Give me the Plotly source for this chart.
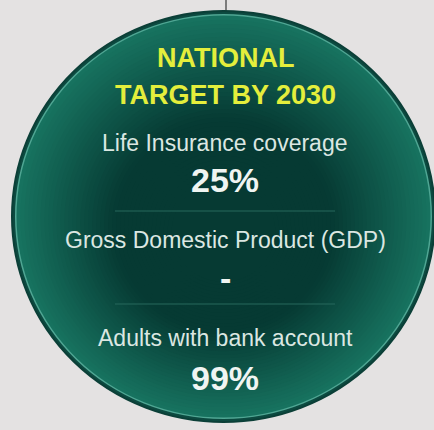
import plotly.graph_objects as go

W, H = 434, 430

title_lines = ["NATIONAL", "TARGET BY 2030"]
labels = ["Life Insurance coverage", "Gross Domestic Product (GDP)", "Adults with bank account"]
values = ["25%", "-", "99%"]

bg = "#e4e2e2"
fig = go.Figure()

# circle geometry (pixel coords)
x0, x1, y0, y1 = 12, 435, 11, 422
cx, cy = (x0 + x1) / 2, (y0 + y1) / 2
rx, ry = (x1 - x0) / 2, (y1 - y0) / 2

def lerp(c1, c2, t):
    a = [int(c1[i:i + 2], 16) for i in (1, 3, 5)]
    b = [int(c2[i:i + 2], 16) for i in (1, 3, 5)]
    return "#%02x%02x%02x" % tuple(round(a[k] + (b[k] - a[k]) * t) for k in range(3))

shapes = []
# hanging line
shapes.append(dict(type="line", x0=226, x1=226, y0=0, y1=y0 + 2, line=dict(color="#5a5a5a", width=1.5)))
# outer rim
shapes.append(dict(type="circle", x0=x0, x1=x1, y0=y0, y1=y1, fillcolor="#0c4a40",
                   line=dict(color="#0b3f37", width=2)))
shapes.append(dict(type="circle", x0=x0 + 3, x1=x1 - 3, y0=y0 + 3, y1=y1 - 3, fillcolor="#4fa693",
                   line=dict(width=0)))
N = 40
for i in range(N):
    t = i / (N - 1)
    s = 1 - 0.75 * t
    ccy = cy + 15 * t
    col = lerp("#17725f", "#063a33", min(1, t * 1.6))
    shapes.append(dict(type="circle", x0=cx - (rx - 4.5) * s, x1=cx + (rx - 4.5) * s,
                       y0=ccy - (ry - 4.5) * s, y1=ccy + (ry - 4.5) * s,
                       fillcolor=col, line=dict(width=0)))
# dividers
for yy in [211, 304]:
    shapes.append(dict(type="line", x0=115, x1=335, y0=yy, y1=yy, line=dict(color="#27695c", width=1.2)))

annotations = []
for txt, yy in zip(title_lines, [58, 95]):
    annotations.append(dict(x=225, y=yy, text=txt, showarrow=False,
                            font=dict(family="Liberation Sans, Arial", size=27, color="#e4ee3c", weight="bold")))
for txt, yy in zip(labels, [143, 240, 338]):
    annotations.append(dict(x=225, y=yy, text=txt, showarrow=False,
                            font=dict(family="Liberation Sans, Arial", size=23, color="#dbe7e2")))
for txt, yy in zip(values, [180, 278, 378]):
    annotations.append(dict(x=225, y=yy, text=txt, showarrow=False,
                            font=dict(family="Liberation Sans, Arial", size=34, color="#f0f5f2", weight="bold")))

fig.update_layout(
    width=W, height=H, margin=dict(l=0, r=0, t=0, b=0),
    paper_bgcolor=bg, plot_bgcolor=bg,
    xaxis=dict(range=[0, W], visible=False, fixedrange=True),
    yaxis=dict(range=[H, 0], visible=False, fixedrange=True),
    shapes=shapes, annotations=annotations, showlegend=False,
)
fig.write_html("out.html", config={"displayModeBar": False},
               post_script="document.body.style.margin='0';document.body.style.overflow='hidden';document.body.style.background='" + bg + "';")
